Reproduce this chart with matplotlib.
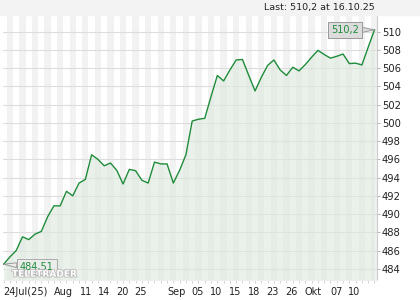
import matplotlib
matplotlib.use("Agg")
import matplotlib.pyplot as plt
import matplotlib.patheffects as pe

# daily closes 24 Jul 2025 - 16 Oct 2025
values = [484.51, 485.3, 486.0, 487.5, 487.2, 487.8, 488.1, 489.7, 490.9, 490.9,
          492.5, 492.0, 493.4, 493.8, 496.5, 496.0, 495.3, 495.6, 494.8, 493.3,
          494.9, 494.75, 493.7, 493.4, 495.7, 495.5, 495.5, 493.4, 494.8, 496.5,
          500.2, 500.4, 500.5, 502.9, 505.2, 504.6, 505.8, 506.9, 506.95, 505.2,
          503.5, 505.0, 506.3, 506.9, 505.8, 505.2, 506.1, 505.7, 506.4, 507.2,
          507.95, 507.5, 507.1, 507.3, 507.55, 506.5, 506.55, 506.35, 508.3, 510.2]
tick_labels = ["24Jul(25)", "Aug", "11", "14", "20", "25", "Sep", "05", "10",
               "15", "18", "23", "26", "Okt", "07", "10"]
tick_pos = [3.45, 9.5, 13.05, 16.0, 18.85, 21.8, 27.5, 30.9, 33.8,
            36.8, 39.8, 42.8, 45.8, 49.2, 52.9, 55.8]
yticks = list(range(484, 511, 2))
first_label = "484,51"
last_label = "510,2"
header = "Last: 510,2 at 16.10.25"

x = list(range(len(values)))
green = "#1e8c3a"

fig = plt.figure(figsize=(4.2, 3.0), dpi=100)
fig.patches.append(plt.Rectangle((0, 0.95), 1, 0.05, transform=fig.transFigure,
                                 color="#f3f3f3", zorder=0))
fig.text(0.893, 0.975, header, ha="right", va="center", fontsize=6.8, color="#222222")

ax = fig.add_axes([0.0079, 0.0667, 0.8897, 0.8833])
ax.set_xlim(-0.05, 59.4)
ax.set_ylim(482.77, 511.83)

# alternating day columns
for i in x:
    if i % 2 == 1:
        ax.axvspan(i - 0.5, i + 0.5, color="#f2f2f2", lw=0, zorder=0)

ax.grid(axis="y", color="#dddddd", lw=0.8, zorder=1)
ax.fill_between(x, values, 482.77, color="#dde9dd", alpha=0.6, lw=0, zorder=2)
ax.plot(x, values, color=green, lw=1.0, zorder=3)

ax.yaxis.tick_right()
ax.set_yticks(yticks)
ax.set_yticklabels([str(v) for v in yticks], fontsize=7.2, color="#222222")
ax.tick_params(axis="y", length=2, width=0.6, color="#aaaaaa", pad=1.5)
ax.set_xticks(x, minor=True)
ax.set_xticks(tick_pos)
ax.set_xticklabels(tick_labels, fontsize=7, color="#222222")
ax.tick_params(axis="x", which="major", length=0, pad=5)
ax.tick_params(axis="x", which="minor", length=2.5, width=0.6, color="#cccccc")
for s in ["top", "left"]:
    ax.spines[s].set_visible(False)
ax.spines["right"].set_color("#cccccc")
ax.spines["bottom"].set_color("#eeeeee")

ax.annotate(last_label, xy=(x[-1], values[-1]), xytext=(-21, 0),
            textcoords="offset points", ha="center", va="center",
            fontsize=7, color=green, zorder=6,
            bbox=dict(boxstyle="square,pad=0.3", fc="#dcdcdc", ec="#999999", lw=0.7),
            arrowprops=dict(arrowstyle="wedge,tail_width=0.5", fc="#dcdcdc",
                            ec="#999999", lw=0.7, shrinkA=0, shrinkB=0))
ax.annotate(first_label, xy=(x[0], values[0]), xytext=(24, -2),
            textcoords="offset points", ha="center", va="center",
            fontsize=7, color=green, zorder=6,
            bbox=dict(boxstyle="square,pad=0.3", fc="#ececec", ec="#999999", lw=0.7, alpha=0.8),
            arrowprops=dict(arrowstyle="wedge,tail_width=0.5", fc="#ececec",
                            ec="#999999", lw=0.7, shrinkA=0, shrinkB=0))

ax.text(0.11, 0.022, "TELETRADER", transform=ax.transAxes, ha="center", va="center",
        fontsize=6.5, fontweight="bold", color="white", zorder=7,
        path_effects=[pe.withStroke(linewidth=1.2, foreground="#b8b8b8")])

fig.savefig("out.png", dpi=100)
